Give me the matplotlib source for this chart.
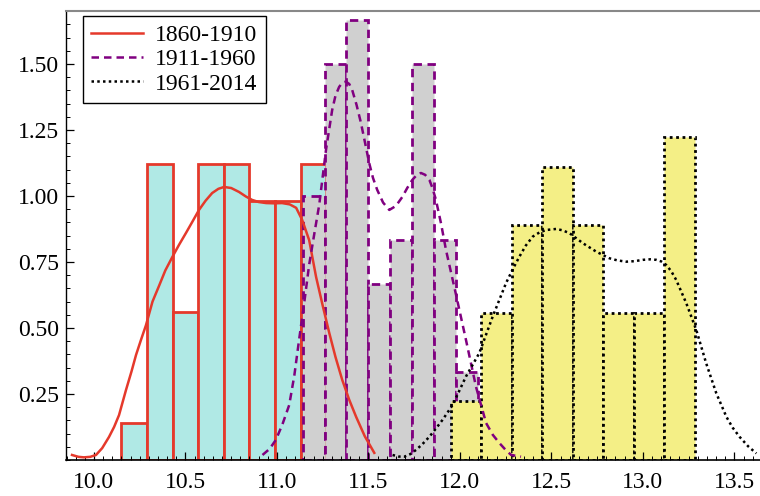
import numpy as np
import matplotlib.pyplot as plt
from matplotlib.ticker import MultipleLocator, FormatStrFormatter

plt.rcParams['font.family'] = ['Liberation Serif', 'DejaVu Serif']

# -- Data ----------------------------------------------------------------------
LABELS = ['1860-1910', '1911-1960', '1961-2014']

bins1   = [10.15, 10.29, 10.43, 10.57, 10.71, 10.85, 10.99, 11.13, 11.27]
counts1 = [1, 8, 4, 8, 8, 7, 7, 8]
bins2   = [11.14, 11.26, 11.38, 11.50, 11.62, 11.74, 11.86, 11.98, 12.10]
counts2 = [6, 9, 10, 4, 5, 9, 5, 2]
bins3   = [11.95, 12.1167, 12.2833, 12.45, 12.6167, 12.7833, 12.95, 13.1167, 13.2833]
counts3 = [2, 5, 8, 10, 8, 5, 5, 11]

# smoothed density curves, traced point by point
kde1_x = [9.880, 9.915, 9.945, 9.980, 10.011, 10.045, 10.082, 10.110, 10.137,
          10.175, 10.205, 10.230, 10.257, 10.284, 10.320, 10.356, 10.390, 10.427,
          10.465, 10.503, 10.540, 10.574, 10.610, 10.646, 10.680, 10.711, 10.750,
          10.793, 10.830, 10.864, 10.900, 10.941, 10.985, 11.028, 11.070, 11.105,
          11.138, 11.176, 11.214, 11.250, 11.286, 11.320, 11.357, 11.395, 11.433,
          11.480, 11.532]
kde1_y = [0.019, 0.012, 0.010, 0.012, 0.019, 0.045, 0.087, 0.125, 0.170,
          0.265, 0.335, 0.398, 0.455, 0.510, 0.600, 0.660, 0.718, 0.767,
          0.815, 0.860, 0.905, 0.947, 0.982, 1.011, 1.027, 1.034, 1.030,
          1.015, 0.998, 0.985, 0.977, 0.973, 0.972, 0.973, 0.968, 0.955,
          0.909, 0.833, 0.693, 0.585, 0.481, 0.390, 0.303, 0.228, 0.163,
          0.090, 0.027]

kde2_x = [10.921, 10.960, 10.994, 11.030, 11.067, 11.095, 11.121, 11.150, 11.176,
          11.205, 11.231, 11.268, 11.302, 11.320, 11.340, 11.358, 11.377, 11.395,
          11.411, 11.435, 11.459, 11.482, 11.504, 11.525, 11.548, 11.580, 11.614,
          11.650, 11.685, 11.712, 11.740, 11.765, 11.787, 11.810, 11.833, 11.850,
          11.869, 11.897, 11.924, 11.979, 12.033, 12.088, 12.143, 12.180, 12.216,
          12.250, 12.280, 12.334]
kde2_y = [0.019, 0.042, 0.076, 0.135, 0.208, 0.320, 0.455, 0.600, 0.739,
          0.860, 0.966, 1.174, 1.326, 1.380, 1.413, 1.429, 1.433, 1.424,
          1.402, 1.345, 1.277, 1.200, 1.125, 1.068, 1.023, 0.975, 0.947,
          0.962, 0.996, 1.030, 1.061, 1.080, 1.087, 1.080, 1.061, 1.030,
          0.985, 0.895, 0.795, 0.625, 0.455, 0.277, 0.140, 0.095, 0.064,
          0.038, 0.019, 0.0125]

kde3_x = [11.632, 11.665, 11.696, 11.728, 11.760, 11.795, 11.833, 11.870, 11.905,
          11.960, 12.033, 12.106, 12.179, 12.252, 12.290, 12.325, 12.360, 12.398,
          12.435, 12.471, 12.526, 12.560, 12.599, 12.672, 12.745, 12.817, 12.860,
          12.909, 12.955, 13.000, 13.040, 13.073, 13.100, 13.127, 13.155, 13.182,
          13.237, 13.292, 13.346, 13.401, 13.456, 13.490, 13.528, 13.575, 13.620]
kde3_y = [0.019, 0.013, 0.0125, 0.022, 0.038, 0.060, 0.088, 0.120, 0.152,
          0.208, 0.316, 0.405, 0.543, 0.670, 0.724, 0.770, 0.812, 0.846,
          0.862, 0.871, 0.875, 0.870, 0.859, 0.821, 0.789, 0.764, 0.756,
          0.751, 0.753, 0.758, 0.760, 0.758, 0.752, 0.739, 0.715, 0.682,
          0.594, 0.492, 0.366, 0.253, 0.164, 0.123, 0.088, 0.052, 0.025]

# -- Style ---------------------------------------------------------------------
FILLS  = ['#b0e9e5', '#d0d0d0', '#f4ef86']
EDGES  = ['#e5392b', '#800080', '#000000']
STYLES = ['-', (0, (3, 2)), (0, (1, 1.3))]
XLIM = (9.847, 13.64)
YLIM = (0.0, 1.70)


def main():
    fig = plt.figure(figsize=(7.6, 4.96), dpi=100)
    ax = fig.add_axes([0.0868, 0.0726, 0.9132, 0.905])

    hists = [(bins1, counts1), (bins2, counts2), (bins3, counts3)]
    for (bins, counts), fc, ec, ls in zip(hists, FILLS, EDGES, STYLES):
        mids = [(a + b) / 2 for a, b in zip(bins[:-1], bins[1:])]
        ax.hist(mids, bins=bins, weights=counts, density=True,
                facecolor=fc, edgecolor=ec, linewidth=2.0, linestyle=ls)

    curves = [(kde1_x, kde1_y), (kde2_x, kde2_y), (kde3_x, kde3_y)]
    for (xs, ys), ec, ls, lab in zip(curves, EDGES, STYLES, LABELS):
        ax.plot(xs, ys, color=ec, ls=ls, lw=1.8, label=lab, zorder=5,
                solid_joinstyle='round')

    ax.set_xlim(*XLIM)
    ax.set_ylim(*YLIM)

    ax.xaxis.set_major_locator(MultipleLocator(0.5))
    ax.xaxis.set_minor_locator(MultipleLocator(0.05))
    ax.xaxis.set_major_formatter(FormatStrFormatter('%.1f'))
    ax.yaxis.set_major_locator(MultipleLocator(0.25))
    ax.yaxis.set_minor_locator(MultipleLocator(0.05))
    ax.yaxis.set_major_formatter(FormatStrFormatter('%.2f'))
    ax.set_yticks([0.25, 0.50, 0.75, 1.00, 1.25, 1.50])

    ax.tick_params(which='both', direction='in', top=False, right=False,
                   labelsize=17, color='black')
    ax.tick_params(which='major', length=6, width=0.9)
    ax.tick_params(axis='y', which='major', pad=5)
    ax.tick_params(axis='x', which='major', pad=9)
    ax.tick_params(which='minor', length=3, width=0.7)

    ax.spines['right'].set_visible(False)
    ax.spines['top'].set_color('#888888')
    ax.spines['top'].set_linewidth(1.5)
    ax.spines['left'].set_linewidth(1.0)
    ax.spines['bottom'].set_linewidth(1.2)

    leg = ax.legend(loc='upper left', bbox_to_anchor=(0.0245, 0.989), fontsize=17,
                    frameon=True, fancybox=False, handlelength=2.2,
                    borderpad=0.35, labelspacing=0.12, handletextpad=0.5,
                    borderaxespad=0.0)
    leg.get_frame().set_edgecolor('black')
    leg.get_frame().set_linewidth(1.0)
    leg.get_frame().set_alpha(1.0)

    fig.savefig('out.png', dpi=100)


if __name__ == '__main__':
    main()
